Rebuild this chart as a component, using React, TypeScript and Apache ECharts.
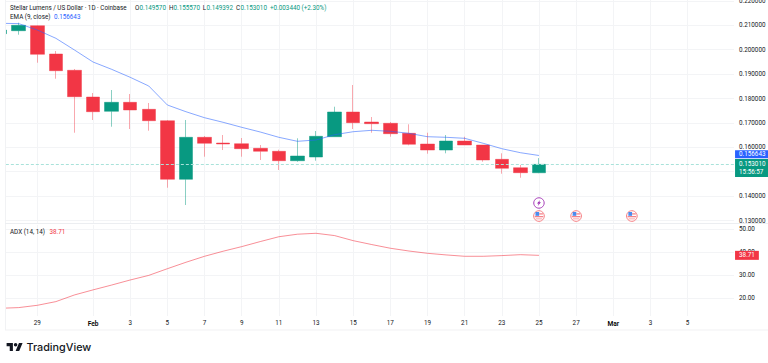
import React, { useEffect, useRef } from "react";
import * as echarts from "echarts";

const days = [
  "Jan 27","Jan 28","Jan 29","Jan 30","Jan 31",
  "Feb 1","Feb 2","Feb 3","Feb 4","Feb 5","Feb 6","Feb 7","Feb 8","Feb 9","Feb 10","Feb 11","Feb 12","Feb 13","Feb 14",
  "Feb 15","Feb 16","Feb 17","Feb 18","Feb 19","Feb 20","Feb 21","Feb 22","Feb 23","Feb 24","Feb 25","Feb 26","Feb 27","Feb 28",
  "Mar 1","Mar 2","Mar 3","Mar 4","Mar 5","Mar 6","Mar 7",
];
const tickLabels: Record<string, string> = {
  "Jan 29": "29", "Feb 1": "Feb", "Feb 3": "3", "Feb 5": "5", "Feb 7": "7", "Feb 9": "9", "Feb 11": "11",
  "Feb 13": "13", "Feb 15": "15", "Feb 17": "17", "Feb 19": "19", "Feb 21": "21", "Feb 23": "23", "Feb 25": "25",
  "Feb 27": "27", "Mar 1": "Mar", "Mar 3": "3", "Mar 5": "5",
};
// [open, close, low, high]
const candles = [
  [0.20656, 0.20807, 0.2060, 0.2085],
  [0.20779, 0.2100, 0.20615, 0.21107],
  [0.20984, 0.19811, 0.19467, 0.2100],
  [0.19824, 0.19139, 0.18811, 0.19947],
  [0.19156, 0.18074, 0.16598, 0.19209],
  [0.18061, 0.17459, 0.17119, 0.18225],
  [0.17475, 0.17844, 0.16844, 0.18348],
  [0.17844, 0.17529, 0.1675, 0.18184],
  [0.17557, 0.1709, 0.1668, 0.17816],
  [0.1709, 0.14689, 0.14344, 0.17119],
  [0.14689, 0.1641, 0.13635, 0.17119],
  [0.1641, 0.16164, 0.15615, 0.16463],
  [0.16176, 0.16135, 0.15889, 0.16504],
  [0.16148, 0.15943, 0.15615, 0.16381],
  [0.15959, 0.15836, 0.1548, 0.16094],
  [0.15836, 0.15451, 0.1507, 0.15902],
  [0.15451, 0.15643, 0.1541, 0.16369],
  [0.15602, 0.16451, 0.15451, 0.16668],
  [0.16434, 0.17447, 0.16434, 0.17664],
  [0.17447, 0.17008, 0.1675, 0.18553],
  [0.17037, 0.16967, 0.16598, 0.17242],
  [0.16984, 0.16557, 0.16434, 0.17037],
  [0.16574, 0.16123, 0.16082, 0.16943],
  [0.16135, 0.15889, 0.15738, 0.16598],
  [0.15889, 0.16258, 0.15754, 0.16504],
  [0.16258, 0.16094, 0.16094, 0.16434],
  [0.16094, 0.1548, 0.1541, 0.16094],
  [0.15508, 0.15139, 0.14918, 0.15754],
  [0.15164, 0.14959, 0.14754, 0.15275],
  [0.14957, 0.15301, 0.149392, 0.15557],
];
const ema = [
  0.21082, 0.2107, 0.20807, 0.20467, 0.19988, 0.19496, 0.19197, 0.18869, 0.18512, 0.17734,
  0.17459, 0.17213, 0.17025, 0.1682, 0.16627, 0.1641, 0.16246, 0.16299, 0.16516, 0.16639,
  0.16697, 0.16656, 0.16574, 0.16434, 0.1641, 0.16369, 0.16164, 0.15943, 0.15779, 0.156643,
];
const adx = [
  15.7, 16, 17, 18.6, 21.5, 23.7, 25.8, 28, 30, 32.9,
  35.7, 38.3, 40.5, 42.5, 44.7, 46.8, 47.9, 48.3, 47.3, 45.1,
  43.4, 41.8, 40.6, 39.6, 38.9, 38.3, 38.3, 38.6, 39, 38.71,
];
const priceTicks = [0.13, 0.14, 0.15, 0.16, 0.17, 0.18, 0.19, 0.2, 0.21, 0.22];
const priceLabels = [0.13, 0.14, 0.16, 0.17, 0.18, 0.19, 0.2, 0.21, 0.22];
const adxTicks = [20, 30, 40, 50];
const flagEvents = [["Feb 25", 0.13184], ["Feb 27", 0.13184], ["Mar 2", 0.13184]];
const boltEvents = [["Feb 25", 0.13718]];
const lastClose = 0.15301;
const lastEma = 0.156643;
const lastAdx = 38.71;
const countdown = "15:56:57";

const UP = "#089981";
const DOWN = "#F23645";
const INK = "#131722";
const GRID = "#f3f4f6";
const FONT = "Roboto";
const FS = 6.3;

const legendTexts: [string, number, number, string][] = [
  ["Stellar Lumens / US Dollar · 1D · Coinbase", 10, 7.5, INK],
  ["O", 135, 7.5, INK], ["0.149570", 139.5, 7.5, UP],
  ["H", 169, 7.5, INK], ["0.155570", 173.5, 7.5, UP],
  ["L", 202.7, 7.5, INK], ["0.149392", 206.5, 7.5, UP],
  ["C", 236, 7.5, INK], ["0.153010", 240.5, 7.5, UP],
  ["+0.003440 (+2.30%)", 270, 7.5, UP],
  ["EMA (9, close)", 10, 16.7, INK], ["0.156643", 54, 16.7, "#2962FF"],
  ["ADX (14, 14)", 10, 232.3, INK], ["38.71", 49.5, 232.3, DOWN],
];

echarts.graphic.registerShape(
  "tvlogo",
  echarts.graphic.extendPath("M14 22H7V11H0V4h14v18zM28 22h-8l7.5-18h8L28 22z M16 8a4 4 0 1 0 8 0a4 4 0 1 0 -8 0z", {}) as any
);

const tagLabel = (text: string, bg: string, offsetY: number, pad: number[]) => ({
  show: true,
  position: "end",
  distance: 1,
  formatter: text,
  color: "#fff",
  fontFamily: FONT,
  fontSize: FS,
  lineHeight: 8,
  backgroundColor: bg,
  padding: pad,
  align: "left",
  offset: [0, offsetY],
});

function renderEvent(params: any, api: any) {
  const [cx, cy] = api.coord([api.value(0), api.value(1)]);
  const kind = api.value(2);
  if (kind === 1) {
    return {
      type: "group",
      x: cx,
      y: cy,
      children: [
        { type: "circle", shape: { cx: 0, cy: 0, r: 5.2 }, style: { fill: "#fff", stroke: "#9C27B0", lineWidth: 0.9 } },
        { type: "polygon", shape: { points: [[1.2, -3], [-2, 0.6], [-0.3, 0.6], [-1.2, 3], [2, -0.8], [0.3, -0.8]] }, style: { fill: "#9C27B0" } },
      ],
    };
  }
  return {
    type: "group",
    x: cx,
    y: cy,
    children: [
      { type: "circle", shape: { cx: 0, cy: 0, r: 5.3 }, style: { fill: "#fff", stroke: "#F77C80", lineWidth: 1 } },
      { type: "rect", shape: { x: -3.5, y: -4, width: 3.7, height: 3.8 }, style: { fill: "#4A8CF0" } },
      { type: "rect", shape: { x: 0.2, y: -2.6, width: 3.8, height: 1 }, style: { fill: "#F2606A" } },
      { type: "rect", shape: { x: -4.2, y: 0.2, width: 8.4, height: 1 }, style: { fill: "#F2606A" } },
      { type: "rect", shape: { x: -3.2, y: 2.4, width: 6.4, height: 0.9 }, style: { fill: "#F79CA2" } },
    ],
  };
}

export default function App() {
  const ref = useRef<HTMLDivElement>(null);
  useEffect(() => {
    const chart = echarts.init(ref.current!, undefined, { renderer: "svg" });
    const showTick = (i: number) => tickLabels[days[i]] !== undefined;
    const left = -9.15;
    const plotWidth = 743.2;
    const eventData = [
      ...flagEvents.map(([d, v]) => [days.indexOf(d as string), v, 0]),
      ...boltEvents.map(([d, v]) => [days.indexOf(d as string), v, 1]),
    ];
    chart.setOption({
      animation: false,
      backgroundColor: "#ffffff",
      grid: [
        { left, top: 0, width: plotWidth, height: 223, outerBoundsMode: "none", containLabel: false },
        { left, top: 225, width: plotWidth, height: 91, outerBoundsMode: "none", containLabel: false },
      ],
      xAxis: [
        {
          type: "category", gridIndex: 0, data: days, boundaryGap: true,
          axisLine: { show: false }, axisTick: { show: false }, axisLabel: { show: false, interval: showTick },
          splitLine: { show: true, interval: showTick, alignWithLabel: true, lineStyle: { color: GRID, width: 1 } },
        },
        {
          type: "category", gridIndex: 1, data: days, boundaryGap: true,
          axisLine: { show: false }, axisTick: { show: false },
          axisLabel: {
            show: true, interval: showTick, margin: 4, fontFamily: FONT, fontSize: FS, color: INK,
            formatter: (v: string) => {
              const t = tickLabels[v] ?? "";
              return t === "Feb" || t === "Mar" ? `{b|${t}}` : t;
            },
            rich: { b: { fontFamily: FONT, fontSize: FS + 0.3, fontWeight: 600, color: "#000" } },
          },
          splitLine: { show: true, interval: showTick, alignWithLabel: true, lineStyle: { color: GRID, width: 1 } },
        },
      ],
      yAxis: [
        {
          type: "value", gridIndex: 0, position: "right", min: 0.12898, max: 0.22037, scale: true,
          axisLine: { show: false },
          axisTick: { show: false, customValues: priceTicks },
          axisLabel: {
            customValues: priceLabels, margin: 5, fontFamily: FONT, fontSize: FS, color: INK,
            formatter: (v: number) => v.toFixed(6),
          },
          splitLine: { show: true, lineStyle: { color: GRID, width: 1 } },
        },
        {
          type: "value", gridIndex: 1, position: "right", min: 12.35, max: 51.9, scale: true,
          axisLine: { show: false },
          axisTick: { show: false, customValues: adxTicks },
          axisLabel: {
            customValues: adxTicks, margin: 5, fontFamily: FONT, fontSize: FS, color: INK,
            formatter: (v: number) => v.toFixed(2),
          },
          splitLine: { show: true, lineStyle: { color: GRID, width: 1 } },
        },
      ],
      series: [
        {
          type: "candlestick", xAxisIndex: 0, yAxisIndex: 0, data: candles, barWidth: 14,
          itemStyle: {
            color: UP, color0: DOWN,
            borderColor: "rgba(8,153,129,0.6)", borderColor0: "rgba(242,54,69,0.55)",
            borderWidth: 0.8,
          },
          markLine: {
            silent: true, symbol: "none", animation: false, precision: 6,
            data: [
              {
                yAxis: lastClose,
                lineStyle: { color: "#a9e2da", type: [3, 2], width: 1 },
                label: tagLabel(`${lastClose.toFixed(6)}\n${countdown}`, UP, 3.6, [1, 4, 1, 4]),
              },
              {
                yAxis: lastEma,
                lineStyle: { color: "rgba(0,0,0,0)", width: 0 },
                label: tagLabel(lastEma.toFixed(6), "#2962FF", -1.3, [0, 4, 0, 4]),
              },
            ],
          },
        },
        {
          type: "line", xAxisIndex: 0, yAxisIndex: 0, data: ema, symbol: "none", z: 3,
          lineStyle: { color: "#2962FF", width: 0.7, opacity: 0.8 },
        },
        {
          type: "custom", xAxisIndex: 0, yAxisIndex: 0, data: eventData, renderItem: renderEvent, z: 4,
          encode: { x: 0, y: 1 }, clip: false,
        },
        {
          type: "line", xAxisIndex: 1, yAxisIndex: 1, data: adx, symbol: "none",
          lineStyle: { color: DOWN, width: 0.7, opacity: 0.8 },
          markLine: {
            silent: true, symbol: "none", animation: false, precision: 2,
            data: [
              {
                yAxis: lastAdx,
                lineStyle: { color: "rgba(0,0,0,0)", width: 0 },
                label: tagLabel(lastAdx.toFixed(2), DOWN, 0, [0.5, 4, 0.5, 4]),
              },
            ],
          },
        },
      ],
      graphic: [
        { type: "rect", z: 90, silent: true, shape: { x: 0, y: 0, width: 5, height: 331 }, style: { fill: "#fff" } },
        { type: "rect", z: 90, silent: true, shape: { x: 0, y: 330, width: 768, height: 33 }, style: { fill: "#fff" } },
        { type: "line", z: 91, silent: true, shape: { x1: 5.5, y1: 0, x2: 5.5, y2: 330 }, style: { stroke: "#f1f2f4", lineWidth: 1 } },
        { type: "line", z: 91, silent: true, shape: { x1: 5, y1: 330, x2: 768, y2: 330 }, style: { stroke: "#f1f2f4", lineWidth: 1.2 } },
        { type: "line", z: 91, silent: true, shape: { x1: 5, y1: 223.5, x2: 768, y2: 223.5 }, style: { stroke: "#eceef1", lineWidth: 1 } },
        ...legendTexts.map(([text, x, y, fill]) => ({
          type: "text", z: 95, silent: true, x, y,
          style: { text, fill, font: `${FS}px ${FONT}`, verticalAlign: "middle" },
        })),
        { type: "tvlogo", z: 95, silent: true, x: 6.6, y: 341.2, scaleX: 0.45, scaleY: 0.45, style: { fill: "#131722" } },
        {
          type: "text", z: 95, silent: true, x: 26.5, y: 347,
          style: { text: "TradingView", fill: "#131722", font: "500 10.8px Inter", verticalAlign: "middle" },
        },
      ],
    });
    return () => chart.dispose();
  }, []);
  return <div ref={ref} style={{ position: "fixed", left: 0, top: 0, width: 768, height: 363 }} />;
}
